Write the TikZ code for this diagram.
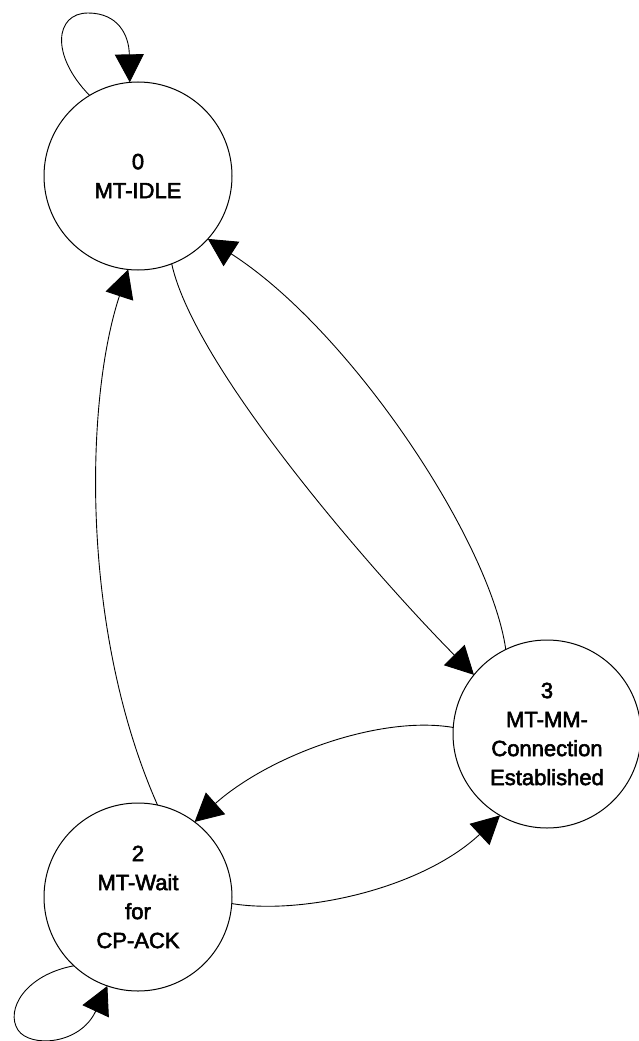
\documentclass[tikz,border=0pt]{standalone}
\usepackage{fontspec}
\setmainfont{Liberation Sans}
\newfontfamily\statefont{Liberation Sans}[FakeBold=2.5]
\usetikzlibrary{arrows.meta}
\begin{document}
\begin{tikzpicture}[x=1pt,y=-1pt,
  state/.style={circle,draw,line width=1pt,minimum size=188pt,inner sep=0pt,outer sep=0pt,align=center,font=\statefont\fontsize{22}{29}\selectfont},
  trans/.style={line width=0.9pt,-{Triangle[length=28pt,width=29pt]}}]
\useasboundingbox (0,0) rectangle (638,1041);
\node[state] (A) at (138,176) {0\\MT-IDLE};
\node[state] (B) at (547,734) {3\\MT-MM-\\Connection\\Established};
\node[state] (C) at (138,897) {2\\MT-Wait\\for\\CP-ACK};
\draw[trans] (A.121) .. controls (50,55) and (55,13) .. (88,13) .. controls (118,13) and (129,35) .. (A.95.5);
\draw[trans] (A.-69) .. controls (195,370) and (380,580) .. (B.141);
\draw[trans] (B.116) .. controls (490,540) and (350,330) .. (A.-42);
\draw[trans] (C.78) .. controls (80,630) and (85,400) .. (A.-96);
\draw[trans] (B.176) .. controls (380,715) and (270,755) .. (C.53);
\draw[trans] (C.-4) .. controls (300,915) and (420,890) .. (B.-120);
\draw[trans] (C.-133) .. controls (25,975) and (5,1010) .. (18,1030) .. controls (30,1048) and (80,1045) .. (C.-109);
\end{tikzpicture}
\end{document}
